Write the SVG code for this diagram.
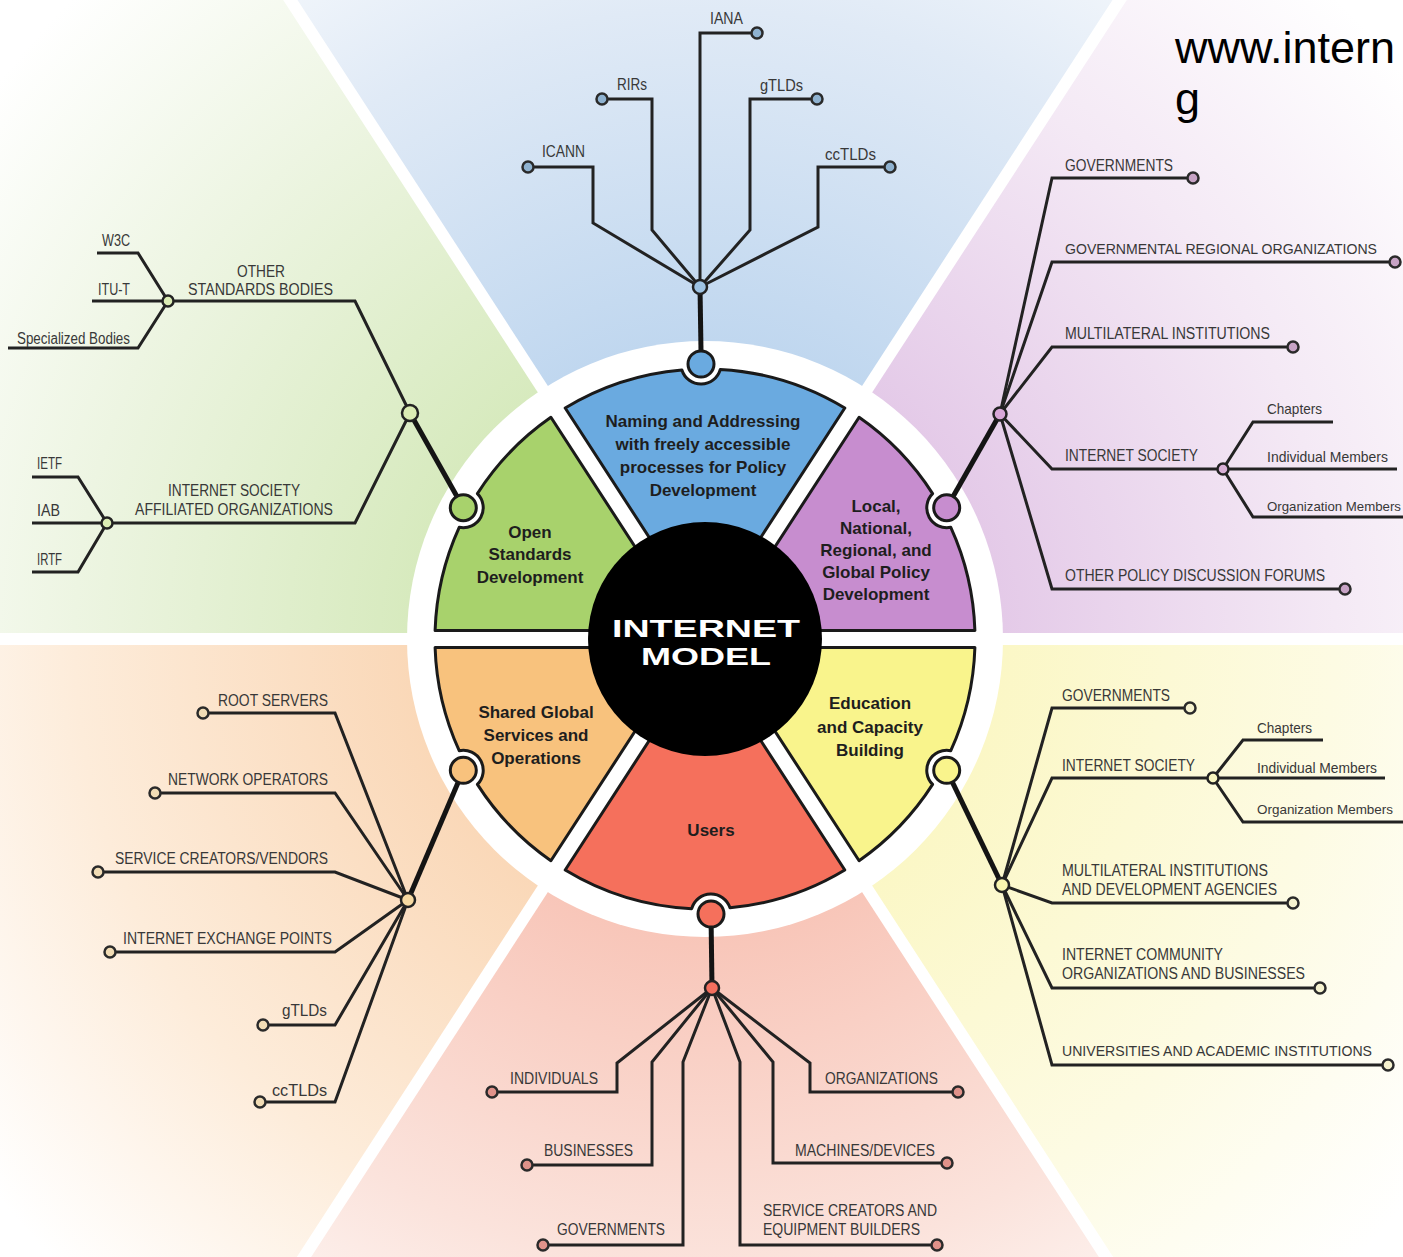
<svg xmlns="http://www.w3.org/2000/svg" width="1403" height="1257" viewBox="0 0 1403 1257">
  <style>
    .gap { stroke: #ffffff; stroke-width: 12; }
    .seg { stroke: #1a1a1a; stroke-width: 3; stroke-linejoin: round; }
    .conn { fill: none; stroke: #222222; stroke-width: 3; stroke-linejoin: miter; }
    .trunk { fill: none; stroke: #141414; stroke-width: 5; }
    .node { stroke: #1a1a1a; stroke-width: 3; }
    .hub { stroke: #222222; stroke-width: 2.5; }
    .end { stroke: #2a2a2a; stroke-width: 2.5; }
    .lb { font-family: "Liberation Sans", Arial, sans-serif; font-size: 16px; fill: #383838; }
    .sm { font-size: 15px; }
    .xs { font-size: 13px; }
    .sl { font-family: "Liberation Sans", Arial, sans-serif; font-size: 17px; font-weight: bold; fill: #1e1e1e; text-anchor: middle; }
    .core { font-family: "Liberation Sans", Arial, sans-serif; font-size: 24px; font-weight: bold; fill: #ffffff; text-anchor: middle; }
    .url { font-family: "Liberation Sans", Arial, sans-serif; font-size: 45px; fill: #000000; }
    .blue-end { fill: #8fb2d0; }
    .green-end { fill: #dbe9b8; }
    .purple-end { fill: #c7a3c5; }
    .yellow-end { fill: #f6f3cf; }
    .red-end { fill: #e0928a; }
    .orange-end { fill: #f1dcb5; }
  </style>
  <defs>
    <radialGradient id="gBlue" gradientUnits="userSpaceOnUse" cx="705" cy="639" r="900">
      <stop offset="0.33" stop-color="#c0d7ef"/>
      <stop offset="0.7" stop-color="#e0eaf6"/>
      <stop offset="1" stop-color="#ffffff"/>
    </radialGradient>
    <radialGradient id="gGreen" gradientUnits="userSpaceOnUse" cx="705" cy="639" r="900">
      <stop offset="0.33" stop-color="#d7eabe"/>
      <stop offset="0.7" stop-color="#edf5e2"/>
      <stop offset="1" stop-color="#ffffff"/>
    </radialGradient>
    <radialGradient id="gPurple" gradientUnits="userSpaceOnUse" cx="705" cy="639" r="900">
      <stop offset="0.33" stop-color="#e4cae8"/>
      <stop offset="0.7" stop-color="#f4e9f5"/>
      <stop offset="1" stop-color="#ffffff"/>
    </radialGradient>
    <radialGradient id="gYellow" gradientUnits="userSpaceOnUse" cx="705" cy="639" r="900">
      <stop offset="0.33" stop-color="#fbf7c6"/>
      <stop offset="0.7" stop-color="#fdfbe3"/>
      <stop offset="1" stop-color="#ffffff"/>
    </radialGradient>
    <radialGradient id="gRed" gradientUnits="userSpaceOnUse" cx="705" cy="639" r="900">
      <stop offset="0.33" stop-color="#f8c6b9"/>
      <stop offset="0.7" stop-color="#fbe3dc"/>
      <stop offset="1" stop-color="#ffffff"/>
    </radialGradient>
    <radialGradient id="gOrange" gradientUnits="userSpaceOnUse" cx="705" cy="639" r="900">
      <stop offset="0.33" stop-color="#fad8b8"/>
      <stop offset="0.7" stop-color="#fdecda"/>
      <stop offset="1" stop-color="#ffffff"/>
    </radialGradient>
  </defs>

  <rect width="1403" height="1257" fill="#ffffff"/>

  <!-- six background sectors radiating from the hub -->
  <g id="backdrop">
    <polygon points="705,639 -112,-620 1522,-620" fill="url(#gBlue)"/>
    <polygon points="705,639 1522,-620 2200,-620 2200,639" fill="url(#gPurple)"/>
    <polygon points="705,639 2200,639 2200,1898 1522,1898" fill="url(#gYellow)"/>
    <polygon points="705,639 1522,1898 -112,1898" fill="url(#gRed)"/>
    <polygon points="705,639 -112,1898 -800,1898 -800,639" fill="url(#gOrange)"/>
    <polygon points="705,639 -800,639 -800,-620 -112,-620" fill="url(#gGreen)"/>
    <line class="gap" x1="705" y1="639" x2="-112" y2="-620"/>
    <line class="gap" x1="705" y1="639" x2="1522" y2="-620"/>
    <line class="gap" x1="705" y1="639" x2="-112" y2="1898"/>
    <line class="gap" x1="705" y1="639" x2="1522" y2="1898"/>
    <line class="gap" x1="705" y1="639" x2="-800" y2="639"/>
    <line class="gap" x1="705" y1="639" x2="2200" y2="639"/>
    <circle cx="705" cy="639" r="298" fill="#ffffff"/>
  </g>

  <!-- ring segments -->
  <g id="seg-naming">
    <path class="seg" fill="#6aaae0" d="M705,623.4 L565.2,408 A270,270 0 0 1 681.9,370 A20,20 0 0 0 720.3,369.4 A270,270 0 0 1 844.8,408 Z"/>
    <text class="sl" x="703" y="427">Naming and Addressing</text>
    <text class="sl" x="703" y="450">with freely accessible</text>
    <text class="sl" x="703" y="473">processes for Policy</text>
    <text class="sl" x="703" y="496">Development</text>
  </g>
  <g id="seg-policy">
    <path class="seg" fill="#c78dcf" d="M720.6,630.5 L859.1,417.3 A270,270 0 0 1 932.6,493.6 A20,20 0 0 0 950.8,527.3 A270,270 0 0 1 974.9,630.5 Z"/>
    <text class="sl" x="876" y="512">Local,</text>
    <text class="sl" x="876" y="534">National,</text>
    <text class="sl" x="876" y="556">Regional, and</text>
    <text class="sl" x="876" y="578">Global Policy</text>
    <text class="sl" x="876" y="600">Development</text>
  </g>
  <g id="seg-education">
    <path class="seg" fill="#f9f48c" d="M720.6,647.5 L974.9,647.5 A270,270 0 0 1 950.8,750.7 A20,20 0 0 0 932.6,784.4 A270,270 0 0 1 859.1,860.7 Z"/>
    <text class="sl" x="870" y="709">Education</text>
    <text class="sl" x="870" y="733">and Capacity</text>
    <text class="sl" x="870" y="756">Building</text>
  </g>
  <g id="seg-users">
    <path class="seg" fill="#f5705c" d="M705,654.6 L844.8,870 A270,270 0 0 1 730,907.8 A20,20 0 0 0 691.7,908.7 A270,270 0 0 1 565.2,870 Z"/>
    <text class="sl" x="711" y="836">Users</text>
  </g>
  <g id="seg-shared">
    <path class="seg" fill="#f8c27d" d="M689.4,647.5 L550.9,860.7 A270,270 0 0 1 477.4,784.4 A20,20 0 0 0 459.2,750.7 A270,270 0 0 1 435.1,647.5 Z"/>
    <text class="sl" x="536" y="718">Shared Global</text>
    <text class="sl" x="536" y="741">Services and</text>
    <text class="sl" x="536" y="764">Operations</text>
  </g>
  <g id="seg-standards">
    <path class="seg" fill="#a8d26c" d="M689.4,630.5 L435.1,630.5 A270,270 0 0 1 459.2,527.3 A20,20 0 0 0 477.4,493.6 A270,270 0 0 1 550.9,417.3 Z"/>
    <text class="sl" x="530" y="538">Open</text>
    <text class="sl" x="530" y="560">Standards</text>
    <text class="sl" x="530" y="583">Development</text>
  </g>

  <g id="core">
    <circle cx="705" cy="639" r="117" fill="#000000"/>
    <text class="core" x="706" y="637" textLength="188" lengthAdjust="spacingAndGlyphs">INTERNET</text>
    <text class="core" x="706" y="665" textLength="130" lengthAdjust="spacingAndGlyphs">MODEL</text>
  </g>

  <!-- all connector lines -->
  <g id="connectors">
    <path class="trunk" d="M701,351 L700,287"/>
    <path class="trunk" d="M463.3,507.7 L410,413"/>
    <path class="trunk" d="M946.7,507.7 L1000,414"/>
    <path class="trunk" d="M946.7,770.3 L1002,885"/>
    <path class="trunk" d="M711,914 L712,988"/>
    <path class="trunk" d="M463.3,770.3 L408,900"/>

    <path class="conn" d="M700,287 V33 H757"/>
    <path class="conn" d="M700,287 L652,230 V99 H602"/>
    <path class="conn" d="M700,287 L593,223 V167 H528"/>
    <path class="conn" d="M700,287 L750,230 V99 H817"/>
    <path class="conn" d="M700,287 L818,227 V167 H890"/>

    <path class="conn" d="M410,413 L355,301 H168"/>
    <path class="conn" d="M168,301 L138,253 H97"/>
    <path class="conn" d="M168,301 H92"/>
    <path class="conn" d="M168,301 L138,348 H8"/>
    <path class="conn" d="M410,413 L355,523 H107"/>
    <path class="conn" d="M107,523 L78,477 H32"/>
    <path class="conn" d="M107,523 H32"/>
    <path class="conn" d="M107,523 L78,572 H32"/>

    <path class="conn" d="M1000,414 L1052,178 H1193"/>
    <path class="conn" d="M1000,414 L1052,262 H1395"/>
    <path class="conn" d="M1000,414 L1052,347 H1293"/>
    <path class="conn" d="M1000,414 L1052,469 H1223"/>
    <path class="conn" d="M1223,469 L1253,422 H1333"/>
    <path class="conn" d="M1223,469 H1397"/>
    <path class="conn" d="M1223,469 L1253,517 H1410"/>
    <path class="conn" d="M1000,414 L1052,589 H1345"/>

    <path class="conn" d="M1002,885 L1052,708 H1190"/>
    <path class="conn" d="M1002,885 L1052,778 H1213"/>
    <path class="conn" d="M1213,778 L1243,740 H1323"/>
    <path class="conn" d="M1213,778 H1385"/>
    <path class="conn" d="M1213,778 L1243,822 H1410"/>
    <path class="conn" d="M1002,885 L1052,903 H1293"/>
    <path class="conn" d="M1002,885 L1052,988 H1320"/>
    <path class="conn" d="M1002,885 L1052,1065 H1388"/>

    <path class="conn" d="M712,988 L617,1063 V1092 H492"/>
    <path class="conn" d="M712,988 L652,1062 V1165 H527"/>
    <path class="conn" d="M712,988 L683,1062 V1245 H543"/>
    <path class="conn" d="M712,988 L740,1062 V1245 H937"/>
    <path class="conn" d="M712,988 L773,1062 V1163 H947"/>
    <path class="conn" d="M712,988 L810,1063 V1092 H958"/>

    <path class="conn" d="M408,900 L335,713 H203"/>
    <path class="conn" d="M408,900 L335,793 H155"/>
    <path class="conn" d="M408,900 L335,872 H98"/>
    <path class="conn" d="M408,900 L335,952 H110"/>
    <path class="conn" d="M408,900 L335,1025 H263"/>
    <path class="conn" d="M408,900 L335,1102 H260"/>
  </g>

  <!-- ring nodes and hubs -->
  <g id="ring-nodes">
    <circle class="node" cx="701" cy="364" r="13" fill="#6aaae0"/>
    <circle class="node" cx="946.7" cy="507.7" r="13" fill="#c78dcf"/>
    <circle class="node" cx="946.7" cy="770.3" r="13" fill="#f9f48c"/>
    <circle class="node" cx="711" cy="914" r="13" fill="#f5705c"/>
    <circle class="node" cx="463.3" cy="770.3" r="13" fill="#f8c27d"/>
    <circle class="node" cx="463.3" cy="507.7" r="13" fill="#a8d26c"/>
  </g>
  <g id="hubs">
    <circle class="hub" cx="700" cy="287" r="7" fill="#9ec3e3"/>
    <circle class="hub" cx="410" cy="413" r="8" fill="#dbecb4"/>
    <circle class="hub" cx="168" cy="301" r="5.5" fill="#dbecb4"/>
    <circle class="hub" cx="107" cy="523" r="5.5" fill="#dbecb4"/>
    <circle class="hub" cx="1000" cy="414" r="6.5" fill="#d8a7d8"/>
    <circle class="hub" cx="1223" cy="469" r="5.5" fill="#d8b0d6"/>
    <circle class="hub" cx="1002" cy="885" r="7" fill="#f8f5b0"/>
    <circle class="hub" cx="1213" cy="778" r="5.5" fill="#f8f5c0"/>
    <circle class="hub" cx="712" cy="988" r="7" fill="#f36f5e"/>
    <circle class="hub" cx="408" cy="900" r="7" fill="#f6d9a2"/>
  </g>

  <!-- naming and addressing bodies -->
  <g id="n-iana"><circle class="end blue-end" cx="757" cy="33" r="5.5"/><text class="lb" x="710" y="24" textLength="33" lengthAdjust="spacingAndGlyphs">IANA</text></g>
  <g id="n-rirs"><circle class="end blue-end" cx="602" cy="99" r="5.5"/><text class="lb" x="617" y="90" textLength="30" lengthAdjust="spacingAndGlyphs">RIRs</text></g>
  <g id="n-icann"><circle class="end blue-end" cx="528" cy="167" r="5.5"/><text class="lb" x="542" y="157" textLength="43" lengthAdjust="spacingAndGlyphs">ICANN</text></g>
  <g id="n-gtlds-top"><circle class="end blue-end" cx="817" cy="99" r="5.5"/><text class="lb" x="760" y="91" textLength="43" lengthAdjust="spacingAndGlyphs">gTLDs</text></g>
  <g id="n-cctlds-top"><circle class="end blue-end" cx="890" cy="167" r="5.5"/><text class="lb" x="825" y="160" textLength="51" lengthAdjust="spacingAndGlyphs">ccTLDs</text></g>

  <!-- standards bodies -->
  <g id="n-w3c"><text class="lb" x="102" y="246" textLength="28" lengthAdjust="spacingAndGlyphs">W3C</text></g>
  <g id="n-itut"><text class="lb" x="98" y="295" textLength="32" lengthAdjust="spacingAndGlyphs">ITU-T</text></g>
  <g id="n-specialized"><text class="lb" x="17" y="344" textLength="113" lengthAdjust="spacingAndGlyphs">Specialized Bodies</text></g>
  <g id="n-other-standards">
    <text class="lb" x="237" y="277" textLength="48" lengthAdjust="spacingAndGlyphs">OTHER</text>
    <text class="lb" x="188" y="295" textLength="145" lengthAdjust="spacingAndGlyphs">STANDARDS BODIES</text>
  </g>
  <g id="n-isoc-affiliated">
    <text class="lb" x="168" y="496" textLength="132" lengthAdjust="spacingAndGlyphs">INTERNET SOCIETY</text>
    <text class="lb" x="135" y="515" textLength="198" lengthAdjust="spacingAndGlyphs">AFFILIATED ORGANIZATIONS</text>
  </g>
  <g id="n-ietf"><text class="lb" x="37" y="469" textLength="25" lengthAdjust="spacingAndGlyphs">IETF</text></g>
  <g id="n-iab"><text class="lb" x="37" y="516" textLength="23" lengthAdjust="spacingAndGlyphs">IAB</text></g>
  <g id="n-irtf"><text class="lb" x="37" y="565" textLength="25" lengthAdjust="spacingAndGlyphs">IRTF</text></g>

  <!-- policy development participants -->
  <g id="n-gov-policy"><circle class="end purple-end" cx="1193" cy="178" r="5.5"/><text class="lb" x="1065" y="171" textLength="108" lengthAdjust="spacingAndGlyphs">GOVERNMENTS</text></g>
  <g id="n-gro"><circle class="end purple-end" cx="1395" cy="262" r="5.5"/><text class="lb" style="font-size:14.5px" x="1065" y="254" textLength="312" lengthAdjust="spacingAndGlyphs">GOVERNMENTAL REGIONAL ORGANIZATIONS</text></g>
  <g id="n-multi-policy"><circle class="end purple-end" cx="1293" cy="347" r="5.5"/><text class="lb" x="1065" y="339" textLength="205" lengthAdjust="spacingAndGlyphs">MULTILATERAL INSTITUTIONS</text></g>
  <g id="n-isoc-policy"><text class="lb" x="1065" y="461" textLength="133" lengthAdjust="spacingAndGlyphs">INTERNET SOCIETY</text></g>
  <g id="n-chapters-policy"><text class="lb sm" x="1267" y="414" textLength="55" lengthAdjust="spacingAndGlyphs">Chapters</text></g>
  <g id="n-indiv-policy"><text class="lb sm" x="1267" y="462" textLength="121" lengthAdjust="spacingAndGlyphs">Individual Members</text></g>
  <g id="n-org-policy"><text class="lb xs" x="1267" y="511" textLength="134" lengthAdjust="spacingAndGlyphs">Organization Members</text></g>
  <g id="n-forums"><circle class="end purple-end" cx="1345" cy="589" r="5.5"/><text class="lb" x="1065" y="581" textLength="260" lengthAdjust="spacingAndGlyphs">OTHER POLICY DISCUSSION FORUMS</text></g>

  <!-- education and capacity building participants -->
  <g id="n-gov-edu"><circle class="end yellow-end" cx="1190" cy="708" r="5.5"/><text class="lb" x="1062" y="701" textLength="108" lengthAdjust="spacingAndGlyphs">GOVERNMENTS</text></g>
  <g id="n-isoc-edu"><text class="lb" x="1062" y="771" textLength="133" lengthAdjust="spacingAndGlyphs">INTERNET SOCIETY</text></g>
  <g id="n-chapters-edu"><text class="lb sm" x="1257" y="733" textLength="55" lengthAdjust="spacingAndGlyphs">Chapters</text></g>
  <g id="n-indiv-edu"><text class="lb sm" x="1257" y="773" textLength="120" lengthAdjust="spacingAndGlyphs">Individual Members</text></g>
  <g id="n-org-edu"><text class="lb xs" x="1257" y="814" textLength="136" lengthAdjust="spacingAndGlyphs">Organization Members</text></g>
  <g id="n-multi-edu">
    <circle class="end yellow-end" cx="1293" cy="903" r="5.5"/>
    <text class="lb" x="1062" y="876" textLength="206" lengthAdjust="spacingAndGlyphs">MULTILATERAL INSTITUTIONS</text>
    <text class="lb" x="1062" y="895" textLength="215" lengthAdjust="spacingAndGlyphs">AND DEVELOPMENT AGENCIES</text>
  </g>
  <g id="n-community">
    <circle class="end yellow-end" cx="1320" cy="988" r="5.5"/>
    <text class="lb" x="1062" y="960" textLength="161" lengthAdjust="spacingAndGlyphs">INTERNET COMMUNITY</text>
    <text class="lb" x="1062" y="979" textLength="243" lengthAdjust="spacingAndGlyphs">ORGANIZATIONS AND BUSINESSES</text>
  </g>
  <g id="n-universities"><circle class="end yellow-end" cx="1388" cy="1065" r="5.5"/><text class="lb" style="font-size:14.5px" x="1062" y="1056" textLength="310" lengthAdjust="spacingAndGlyphs">UNIVERSITIES AND ACADEMIC INSTITUTIONS</text></g>

  <!-- users -->
  <g id="n-individuals"><circle class="end red-end" cx="492" cy="1092" r="5.5"/><text class="lb" x="510" y="1084" textLength="88" lengthAdjust="spacingAndGlyphs">INDIVIDUALS</text></g>
  <g id="n-businesses"><circle class="end red-end" cx="527" cy="1165" r="5.5"/><text class="lb" x="544" y="1156" textLength="89" lengthAdjust="spacingAndGlyphs">BUSINESSES</text></g>
  <g id="n-gov-users"><circle class="end red-end" cx="543" cy="1245" r="5.5"/><text class="lb" x="557" y="1235" textLength="108" lengthAdjust="spacingAndGlyphs">GOVERNMENTS</text></g>
  <g id="n-builders">
    <circle class="end red-end" cx="937" cy="1245" r="5.5"/>
    <text class="lb" x="763" y="1216" textLength="174" lengthAdjust="spacingAndGlyphs">SERVICE CREATORS AND</text>
    <text class="lb" x="763" y="1235" textLength="157" lengthAdjust="spacingAndGlyphs">EQUIPMENT BUILDERS</text>
  </g>
  <g id="n-machines"><circle class="end red-end" cx="947" cy="1163" r="5.5"/><text class="lb" x="795" y="1156" textLength="140" lengthAdjust="spacingAndGlyphs">MACHINES/DEVICES</text></g>
  <g id="n-organizations"><circle class="end red-end" cx="958" cy="1092" r="5.5"/><text class="lb" x="825" y="1084" textLength="113" lengthAdjust="spacingAndGlyphs">ORGANIZATIONS</text></g>

  <!-- shared global services -->
  <g id="n-root"><circle class="end orange-end" cx="203" cy="713" r="5.5"/><text class="lb" x="218" y="706" textLength="110" lengthAdjust="spacingAndGlyphs">ROOT SERVERS</text></g>
  <g id="n-netops"><circle class="end orange-end" cx="155" cy="793" r="5.5"/><text class="lb" x="168" y="785" textLength="160" lengthAdjust="spacingAndGlyphs">NETWORK OPERATORS</text></g>
  <g id="n-vendors"><circle class="end orange-end" cx="98" cy="872" r="5.5"/><text class="lb" x="115" y="864" textLength="213" lengthAdjust="spacingAndGlyphs">SERVICE CREATORS/VENDORS</text></g>
  <g id="n-ixp"><circle class="end orange-end" cx="110" cy="952" r="5.5"/><text class="lb" x="123" y="944" textLength="209" lengthAdjust="spacingAndGlyphs">INTERNET EXCHANGE POINTS</text></g>
  <g id="n-gtlds-ops"><circle class="end orange-end" cx="263" cy="1025" r="5.5"/><text class="lb" x="282" y="1016" textLength="45" lengthAdjust="spacingAndGlyphs">gTLDs</text></g>
  <g id="n-cctlds-ops"><circle class="end orange-end" cx="260" cy="1102" r="5.5"/><text class="lb" x="272" y="1096" textLength="55" lengthAdjust="spacingAndGlyphs">ccTLDs</text></g>

  <g id="url">
    <text class="url" x="1175" y="63">www.intern</text>
    <text class="url" x="1175" y="114">g</text>
  </g>
</svg>
